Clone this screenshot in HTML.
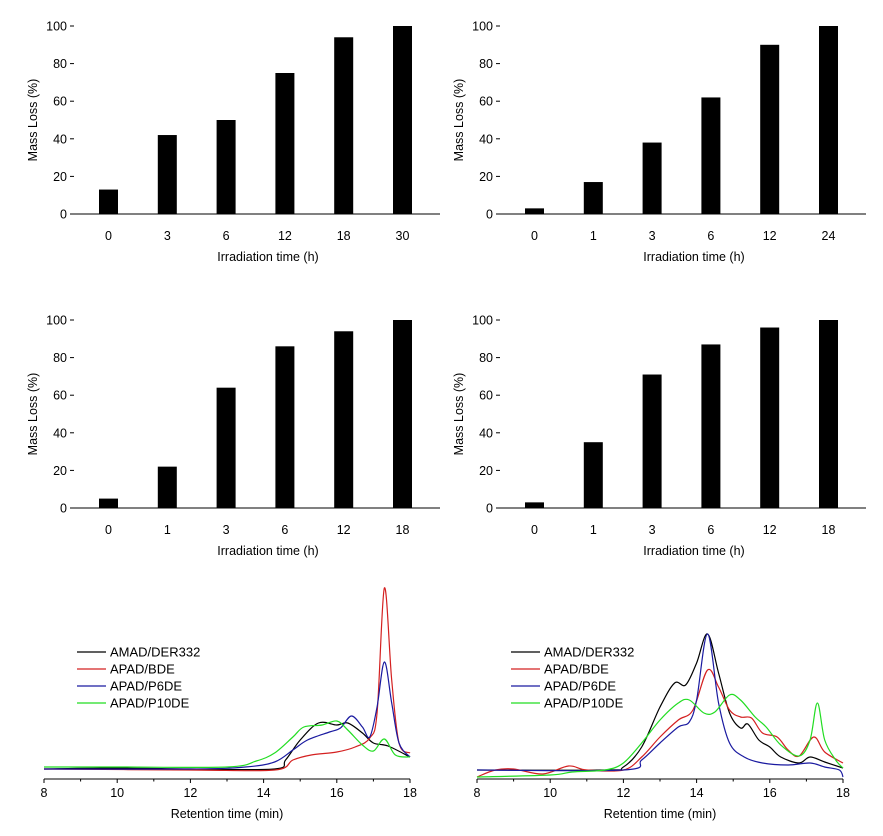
<!DOCTYPE html>
<html><head><meta charset="utf-8"><style>
body{margin:0;background:#fff;}
svg{display:block;font-family:"Liberation Sans",sans-serif;}
</style></head><body>
<svg id="fig" width="883" height="836" viewBox="0 0 883 836"></svg>
<script>
const barCats1=["0","3","6","12","18","30"];
const barVals1=[13,42,50,75,94,100];
const barCats2=["0","1","3","6","12","24"];
const barVals2=[3,17,38,62,90,100];
const barCats3=["0","1","3","6","12","18"];
const barVals3=[5,22,64,86,94,100];
const barCats4=["0","1","3","6","12","18"];
const barVals4=[3,35,71,87,96,100];
const yTicks=[0,20,40,60,80,100];
const xTicksGpc=[8,10,12,14,16,18];
const seriesNames=["AMAD/DER332","APAD/BDE","APAD/P6DE","APAD/P10DE"];
const seriesColors=["#000000","#d42020","#1a1aa0","#22dd22"];
// left GPC traces [time, intensity]
const gpcL0=[[8,10],[10,11],[12,10],[14.3,10],[14.6,19],[15.0,39],[15.5,56],[16.0,54],[16.3,56],[16.7,46],[17.0,36],[17.4,33],[18,22]];
const gpcL1=[[8,10],[12,9],[14.3,9],[14.8,19],[15.3,24],[16.0,27],[16.5,32],[16.9,41],[17.1,66],[17.3,191],[17.5,99],[17.7,36],[18,26]];
const gpcL2=[[8,10],[12,10],[13.5,12],[14.3,17],[14.8,29],[15.2,39],[15.8,47],[16.1,51],[16.4,63],[16.7,52],[16.9,42],[17.1,72],[17.3,117],[17.5,76],[17.7,36],[18,22]];
const gpcL3=[[8,12],[10,12],[13,12],[13.8,18],[14.3,26],[14.8,42],[15.1,52],[15.6,54],[16.0,58],[16.3,49],[16.7,34],[17.0,28],[17.3,40],[17.6,24],[18,22]];
// right GPC traces
const gpcR0=[[8,9],[11.5,9],[12.0,12],[12.5,32],[13.0,72],[13.4,96],[13.7,94],[14.0,116],[14.3,145],[14.6,106],[14.9,66],[15.2,51],[15.4,55],[15.7,39],[16.0,32],[16.3,22],[16.8,16],[17.1,22],[17.5,17],[18,11]];
const gpcR1=[[8,2],[8.5,9],[9,10],[9.8,5],[10.5,13],[11,9],[12,9],[12.5,22],[13.0,42],[13.5,59],[13.9,69],[14.3,109],[14.6,92],[14.9,69],[15.2,62],[15.5,61],[15.8,46],[16.2,42],[16.5,29],[16.8,23],[17.2,42],[17.5,27],[18,16]];
const gpcR2=[[8,9],[12,9],[12.5,19],[13.0,36],[13.5,52],[13.8,57],[14.0,79],[14.3,145],[14.6,76],[14.9,36],[15.3,22],[15.8,16],[16.5,14],[17.1,16],[17.5,12],[17.9,9],[18,2]];
const gpcR3=[[8,2],[10,4],[10.6,7],[11.5,9],[12.0,16],[12.5,36],[13.0,59],[13.5,76],[13.8,79],[14.2,66],[14.5,67],[14.9,84],[15.2,79],[15.6,62],[15.9,52],[16.3,34],[16.8,23],[17.1,39],[17.3,76],[17.5,39],[17.8,19],[18,11]];

const NS="http://www.w3.org/2000/svg";
const svg=document.getElementById('fig');
function mk(tag,attrs,parent){const e=document.createElementNS(NS,tag);for(const k in attrs)e.setAttribute(k,attrs[k]);(parent||svg).appendChild(e);return e;}

function barChart(ox,oy,cats,vals,name){
  const g=mk('g',{});
  
  
  const x0=ox,y0=oy,h=188,step=58.8,w=366;
  const ys=v=>y0-v/100*h;
  const xs=i=>x0+34.5+i*step;
  const ax=mk('line',{x1:x0,y1:y0,x2:x0+w,y2:y0,stroke:'#000','stroke-width':1},g);
  
  
  yTicks.forEach(t=>{
    const tk=mk('line',{x1:x0-4,y1:ys(t),x2:x0,y2:ys(t),stroke:'#000'},g);
    
    
    const tl=mk('text',{x:x0-7,y:ys(t)+4.5,'font-size':12.5,'text-anchor':'end'},g);
    tl.textContent=t;
    
    
  });
  cats.forEach((c,i)=>{
    const b=mk('rect',{x:xs(i)-9.5,y:ys(vals[i]),width:19,height:vals[i]/100*h,fill:'#000'},g);
    
    
    const tl=mk('text',{x:xs(i),y:y0+26,'font-size':12.5,'text-anchor':'middle'},g);
    tl.textContent=c;
    
    
  });
  const xt=mk('text',{x:x0+194,y:y0+47,'font-size':12.5,'text-anchor':'middle'},g);
  xt.textContent='Irradiation time (h)';
  
  
  const yt=mk('text',{x:0,y:0,'font-size':12.5,'text-anchor':'middle',transform:`translate(${x0-37},${y0-94}) rotate(-90)`},g);
  yt.textContent='Mass Loss (%)';
  
  
}
barChart(74,214,barCats1,barVals1,'bar-chart-top-left');
barChart(500,214,barCats2,barVals2,'bar-chart-top-right');
barChart(74,508,barCats3,barVals3,'bar-chart-middle-left');
barChart(500,508,barCats4,barVals4,'bar-chart-middle-right');

function gpcChart(x8,x18,axisY,series,name,legX,legY){
  const g=mk('g',{});
  
  
  const xs=t=>x8+(t-8)/10*(x18-x8);
  const ys=v=>axisY-v;
  const ax=mk('line',{x1:x8,y1:axisY,x2:x18,y2:axisY,stroke:'#000'},g);
  
  
  for(let t=8;t<=18;t+=1){
    const tk=mk('line',{x1:xs(t),y1:axisY,x2:xs(t),y2:axisY+(t%2==0?4:2.5),stroke:'#000'},g);
    
    
  }
  xTicksGpc.forEach(t=>{
    const tl=mk('text',{x:xs(t),y:axisY+18,'font-size':12.5,'text-anchor':'middle'},g);
    tl.textContent=t;
    
    
  });
  const xt=mk('text',{x:(x8+x18)/2,y:axisY+39,'font-size':12.5,'text-anchor':'middle'},g);
  xt.textContent='Retention time (min)';
  
  
  series.forEach((s,k)=>{
    const pts=s.map(p=>[xs(p[0]),ys(p[1])]);
    let d='M'+pts[0][0]+','+pts[0][1];
    for(let i=1;i<pts.length;i++){
      const p0=pts[Math.max(0,i-2)],p1=pts[i-1],p2=pts[i],p3=pts[Math.min(pts.length-1,i+1)];
      const c1x=p1[0]+(p2[0]-p0[0])/6,c1y=p1[1]+(p2[1]-p0[1])/6;
      const c2x=p2[0]-(p3[0]-p1[0])/6,c2y=p2[1]-(p3[1]-p1[1])/6;
      d+=` C${c1x},${c1y} ${c2x},${c2y} ${p2[0]},${p2[1]}`;
    }
    const ln=mk('path',{d:d,fill:'none',stroke:seriesColors[k],'stroke-width':1.2},g);
    
    
  });
  seriesNames.forEach((n,k)=>{
    const y=legY+k*17;
    const ll=mk('line',{x1:legX,y1:y,x2:legX+29,y2:y,stroke:seriesColors[k],'stroke-width':1.2},g);
    
    
    const lt=mk('text',{x:legX+33,y:y+4.5,'font-size':13},g);
    lt.textContent=n;
    
    
  });
}
gpcChart(44,410,779,[gpcL0,gpcL1,gpcL2,gpcL3],'gpc-chart-left',77,652);
gpcChart(477,843,779,[gpcR0,gpcR1,gpcR2,gpcR3],'gpc-chart-right',511,652);
</script>
</body></html>
